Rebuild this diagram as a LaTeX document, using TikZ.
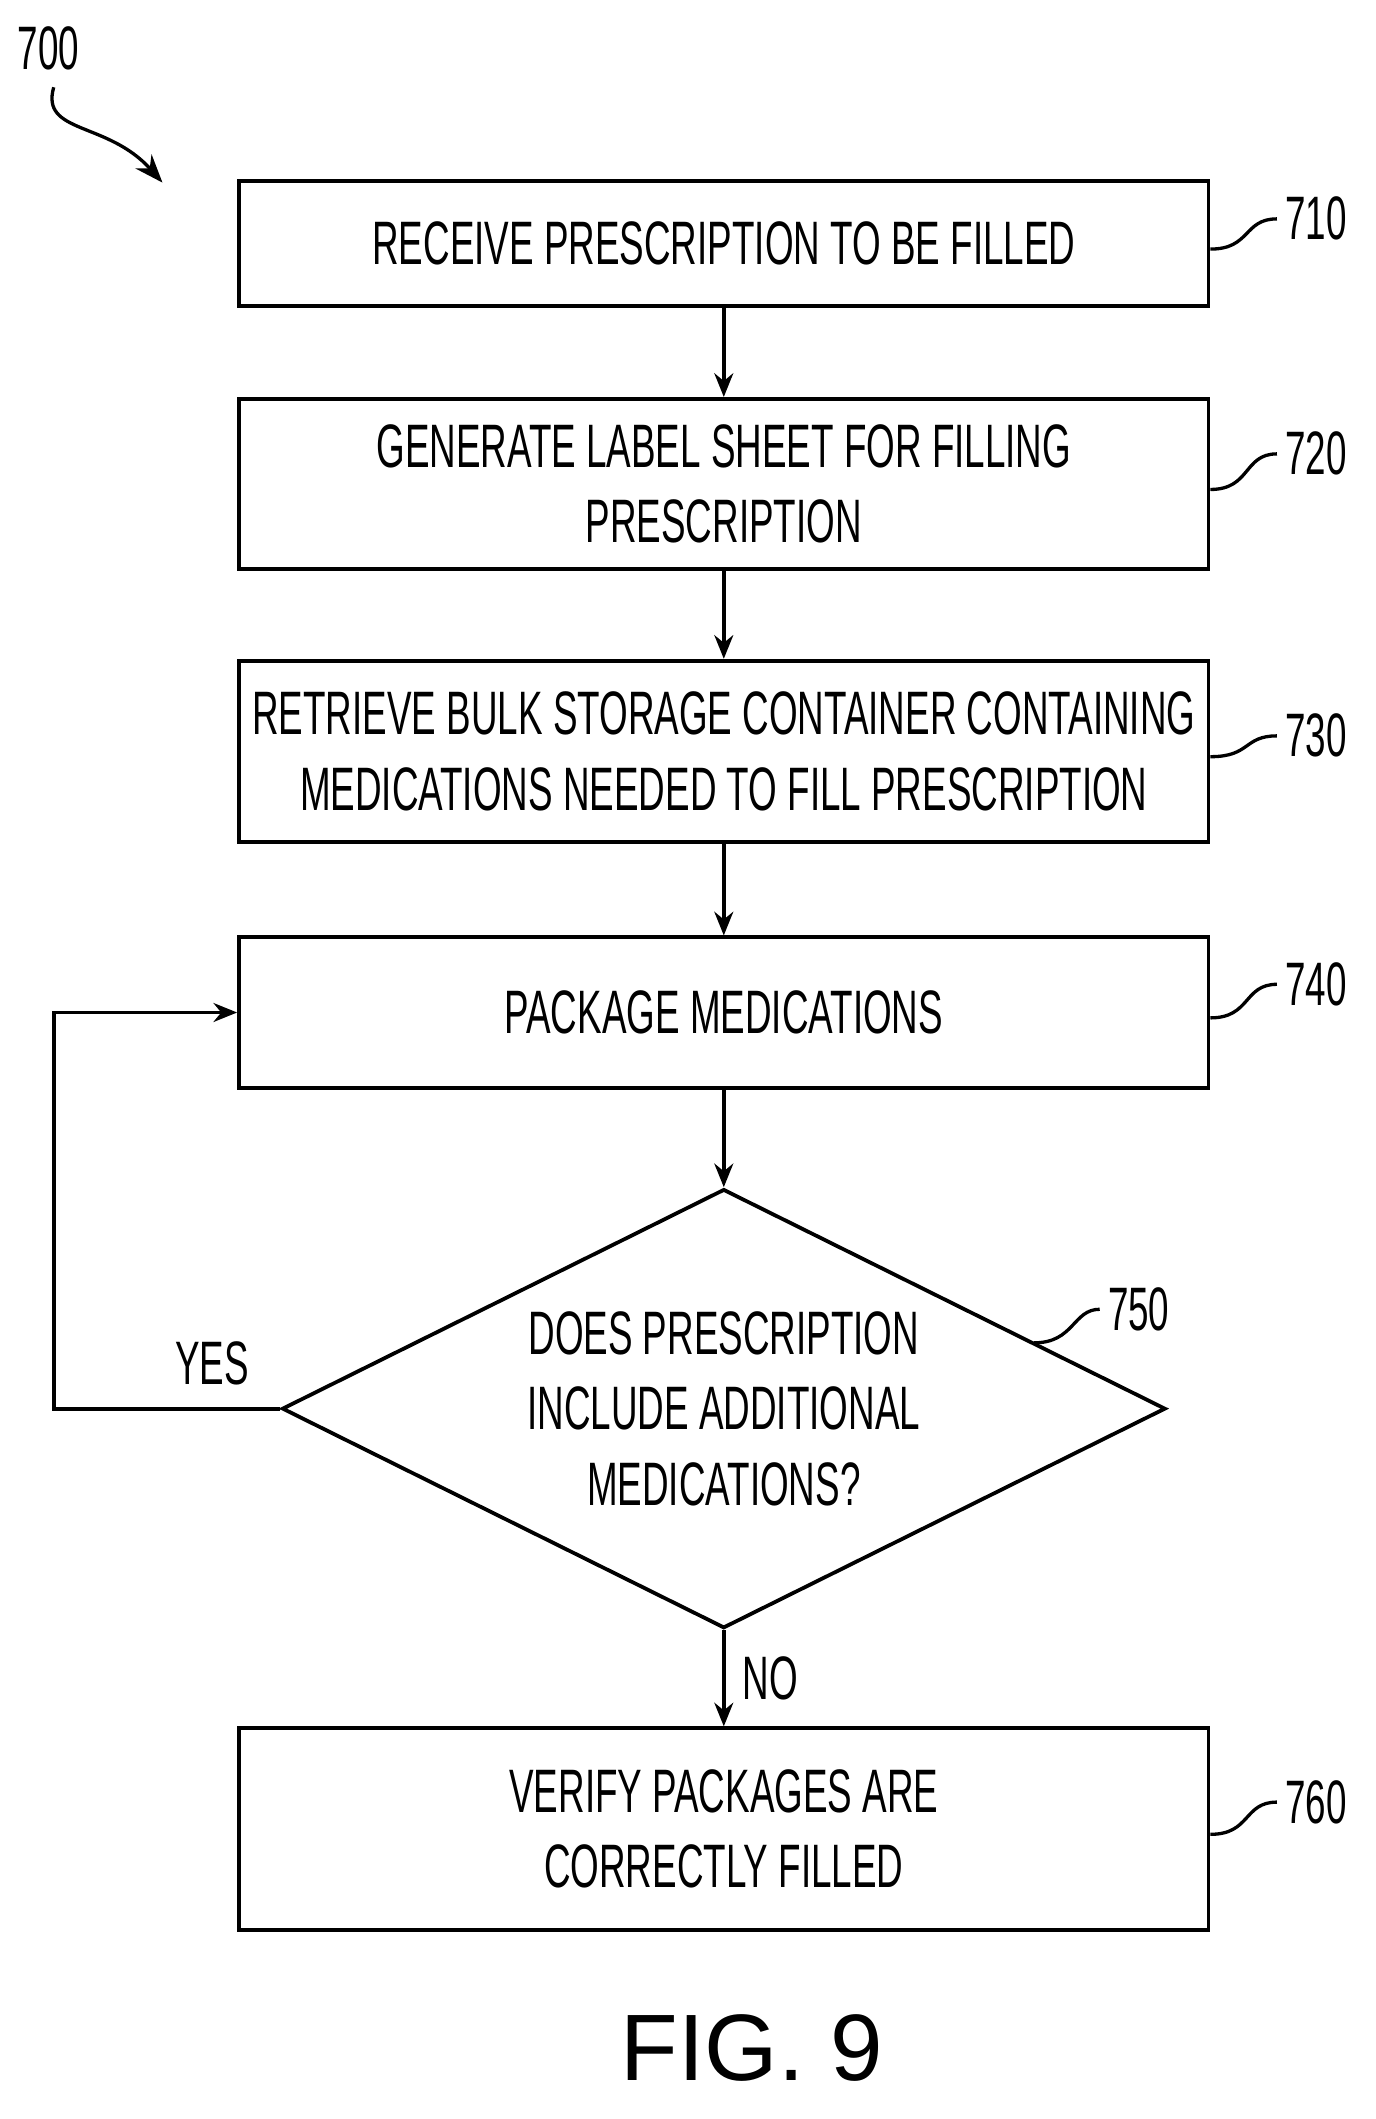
\documentclass[tikz,border=0pt]{standalone}
\usepackage{fontspec}
\setmainfont{Liberation Sans}[FakeStretch=0.6]
\newfontfamily\figfont{Liberation Sans}
\usetikzlibrary{shapes.geometric,arrows.meta,positioning}
\tikzset{
  process/.style={draw,line width=1.6pt,minimum width=14.44cm,align=center,
    font=\fontsize{26}{32}\selectfont,inner sep=0pt},
  test/.style={draw,diamond,line width=1.6pt,minimum width=13.16cm,minimum height=6.54cm,
    aspect=2,align=center,font=\fontsize{26}{32}\selectfont,inner sep=0pt},
  flow/.style={line width=1.6pt,-{Stealth[length=10pt,width=8pt]}},
  ref/.style={font=\fontsize{26}{32}\selectfont},
  lead/.style={line width=1.4pt}
}
\begin{document}
\begin{tikzpicture}
  \useasboundingbox (0,0) rectangle (20.48,-31.56);
  % steps
  \node[process,minimum height=1.86cm] (s710) at (10.78,-3.63) {RECEIVE PRESCRIPTION TO BE FILLED};
  \node[process,minimum height=2.54cm] (s720) at (10.78,-7.21) {GENERATE LABEL SHEET FOR FILLING\\PRESCRIPTION};
  \node[process,minimum height=2.70cm] (s730) at (10.78,-11.19) {RETRIEVE BULK STORAGE CONTAINER CONTAINING\\MEDICATIONS NEEDED TO FILL PRESCRIPTION};
  \node[process,minimum height=2.24cm] (s740) at (10.78,-15.08) {PACKAGE MEDICATIONS};
  \node[test] (s750) at (10.78,-20.98) {DOES PRESCRIPTION\\INCLUDE ADDITIONAL\\MEDICATIONS?};
  \node[process,minimum height=3.00cm] (s760) at (10.78,-27.24) {VERIFY PACKAGES ARE\\CORRECTLY FILLED};
  % connectors
  \draw[flow] (s710) -- (s720);
  \draw[flow] (s720) -- (s730);
  \draw[flow] (s730) -- (s740);
  \draw[flow] (s740) -- (s750);
  \draw[flow] (s750) -- node[right=4pt,ref] {NO} (s760);
  \coordinate (yes1) at (0.8,-20.98);
  \coordinate (yes2) at (0.8,-15.08);
  \draw[flow] (s750.west) -- node[above=6pt,pos=0.3,ref] {YES} (yes1) -- (yes2) -- (s740.west);
  % reference numerals
  \node[ref] (n710) at (19.6,-3.26) {710};
  \node[ref] (n720) at (19.6,-6.76) {720};
  \node[ref] (n730) at (19.6,-10.96) {730};
  \node[ref] (n740) at (19.6,-14.66) {740};
  \node[ref] (n750) at (16.96,-19.5) {750};
  \node[ref] (n760) at (19.6,-26.84) {760};
  \foreach \n in {710,720,730,740,760}
    \draw[lead] (s\n.east) ++(0,-0.08) .. controls +(0.6,0) and +(-0.5,0) .. (n\n.west);
  \draw[lead] (15.4,-20.0) .. controls +(0.6,0) and +(-0.4,0) .. (n750.west);
  \node[ref] (n700) at (0.72,-0.72) {700};
  \coordinate (p700) at (2.42,-2.72);
  \draw[lead,-{Stealth[length=12pt,width=9pt]}] (0.8,-1.3) .. controls (0.6,-2.0) and (1.6,-1.8) .. (p700);
  \node[font=\figfont\fontsize{40}{46}\selectfont] (fig) at (11.2,-30.5) {FIG. 9};
\end{tikzpicture}
\end{document}
